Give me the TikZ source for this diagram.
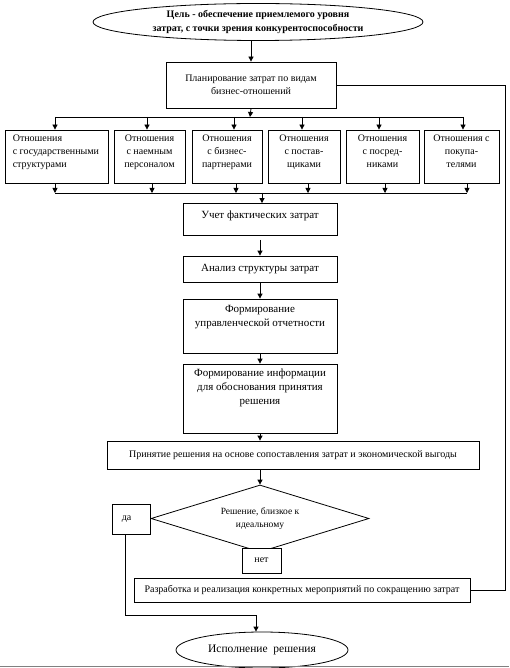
\documentclass[tikz,border=0pt]{standalone}
\usepackage{fontspec}
\setmainfont{Liberation Serif}
\usetikzlibrary{arrows.meta,shapes.geometric,calc}
\tikzset{
  box/.style={draw, line width=0.8pt, rectangle, inner sep=0pt, align=center, font=\fontsize{10}{13}\selectfont},
  lbl/.style={inner sep=0pt, align=center, font=\fontsize{10}{13}\selectfont},
  midlbl/.style={inner sep=0pt, align=center, font=\fontsize{11}{14}\selectfont},
  oval/.style={draw, line width=0.8pt, ellipse, inner sep=0pt, align=center},
  conn/.style={line width=0.8pt},
  arr/.style={line width=0.8pt, -{Triangle[length=5pt,width=5pt]}},
}
\begin{document}
\begin{tikzpicture}[x=1pt,y=-1pt]
\useasboundingbox (0,0) rectangle (509,668);

% top goal
\node[oval, minimum width=330, minimum height=37, font=\bfseries\fontsize{10}{14}\selectfont] (goal) at (258,22)
  {Цель - обеспечение приемлемого уровня\\затрат, с точки зрения конкурентоспособности};

% planning
\node[box, minimum width=170, minimum height=46] (plan) at (251,85)
  {Планирование затрат по видам\\бизнес-отношений};

% six relation boxes (top at 130, bottom at 183)
\node[box, minimum width=103, minimum height=53,
  label={[lbl, align=left, anchor=north west, xshift=8pt, yshift=-5pt]north west:{Отношения\\с государственными\\структурами}}] (r1) at (56.5,156.5) {};
\node[box, minimum width=71, minimum height=53,
  label={[lbl, anchor=north, yshift=-5pt]north:{Отношения\\с наемным\\персоналом}}] (r2) at (149.5,156.5) {};
\node[box, minimum width=70, minimum height=53,
  label={[lbl, anchor=north, yshift=-5pt]north:{Отношения\\с бизнес-\\партнерами}}] (r3) at (227,156.5) {};
\node[box, minimum width=72, minimum height=53,
  label={[lbl, anchor=north, yshift=-5pt]north:{Отношения\\с постав-\\щиками}}] (r4) at (304,156.5) {};
\node[box, minimum width=73, minimum height=53,
  label={[lbl, anchor=north, yshift=-5pt]north:{Отношения\\с посред-\\никами}}] (r5) at (382.5,156.5) {};
\node[box, minimum width=75, minimum height=53,
  label={[lbl, anchor=north, yshift=-5pt]north:{Отношения с\\покупа-\\телями}}] (r6) at (461.5,156.5) {};

% buses
\coordinate (b1l) at (55,117);
\coordinate (b1r) at (463,117);
\coordinate (b1m) at (250,117);
\coordinate (b2l) at (55,193);
\coordinate (b2r) at (467,193);
\coordinate (b2m) at (262,193);

% middle chain
\node[box, minimum width=154, minimum height=32,
  label={[midlbl, anchor=north, yshift=-8pt]north:{Учет фактических затрат}}] (fact) at (260,219.5) {};
\node[box, minimum width=154, minimum height=26, font=\fontsize{11}{14}\selectfont] (anal) at (260,269) {Анализ структуры затрат};
\node[box, minimum width=154, minimum height=54,
  label={[midlbl, anchor=north, yshift=-6pt]north:{Формирование\\управленческой отчетности}}] (rep) at (260,326) {};
\node[box, minimum width=154, minimum height=69,
  label={[midlbl, anchor=north, yshift=-5pt]north:{Формирование информации\\для обоснования принятия\\решения}}] (info) at (260,398.5) {};

\node[box, minimum width=372, minimum height=28] (dec) at (293,455)
  {Принятие решения на основе сопоставления затрат и экономической выгоды};

\node[draw, line width=0.8pt, diamond, aspect=3.25, inner sep=0pt, minimum width=218, minimum height=67,
  align=center, font=\fontsize{9.5}{12.5}\selectfont] (ideal) at (260,518.5)
  {Решение, близкое к\\идеальному};

\node[box, minimum width=38, minimum height=30, fill=white,
  label={[lbl, anchor=west, xshift=10pt]west:{да}}] (yes) at (131,519) {};
\node[box, minimum width=39, minimum height=25, fill=white] (no) at (261.5,560.5) {нет};

\node[box, minimum width=336, minimum height=24] (dev) at (302,590)
  {Разработка и реализация конкретных мероприятий по сокращению затрат};

\node[oval, minimum width=172, minimum height=36, font=\fontsize{11.5}{14}\selectfont] (exec) at (262,650)
  {Исполнение\ \ решения};

% connectors
\draw[arr] (plan.north |- goal.south) -- (plan.north);
\draw[arr] (plan.south) -- (b1m);
\draw[conn] (b1l) -- (b1r);
\foreach \n/\xx in {r1/55,r2/147,r3/234,r4/302,r5/379,r6/463}{
  \draw[arr] (\xx,117) -- (\n.north -| \xx,0);
}
\draw[conn] (b2l) -- (b2r);
\foreach \n/\xx in {r1/55,r2/152,r3/236,r4/308,r5/385,r6/467}{
  \draw[arr] (\n.south -| \xx,0) -- (\xx,193);
}
\draw[arr] (b2m) -- (fact.north -| b2m);
\draw[arr] ([yshift=-4pt]fact.south) -- (anal.north);
\draw[arr] (anal.south) -- (rep.north);
\draw[arr] (rep.south) -- (info.north);
\draw[arr] (info.south) -- (dec.north -| info.south);
\draw[arr] (dec.south -| ideal.north) -- (ideal.north);
\draw[conn] (ideal.west) -- (yes.east);
\coordinate (j1) at (125,615);
\draw[arr] (yes.south -| j1) -- (j1) -| (exec.north -| 256,0);
\coordinate (rc) at (505,590);
\draw[conn] (dev.east) -- (rc) |- (plan.east);

% bottom page rule
\draw[gray, line width=1.6pt] (0,666.5) -- (509,666.5);
\end{tikzpicture}
\end{document}
